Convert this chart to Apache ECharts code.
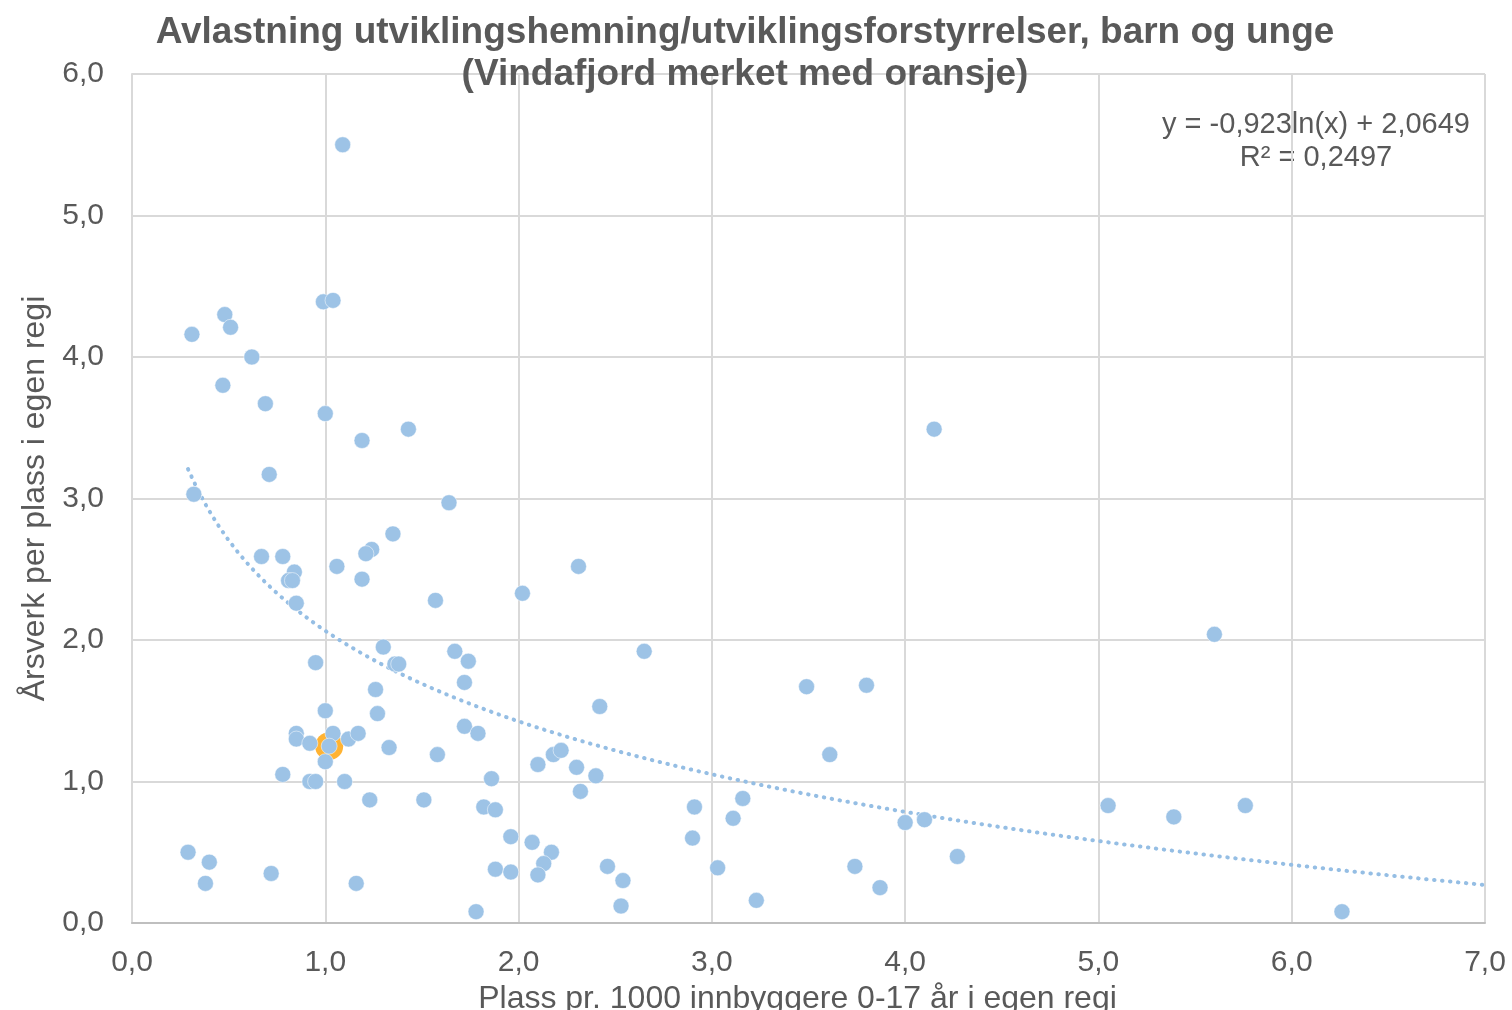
<!DOCTYPE html>
<html>
<head>
<meta charset="utf-8">
<title>Avlastning utviklingshemning</title>
<script src="https://cdn.jsdelivr.net/npm/echarts@6/dist/echarts.min.js"></script>
<style>
  html, body { margin: 0; padding: 0; background: #fff; }
  #chart { width: 1512px; height: 1010px; }
</style>
</head>
<body>
<div id="chart"></div>
<script>
// plass pr. 1000 innbyggere 0-17 år (x) og årsverk per plass (y), lest av figuren
const plassX = [
  1.09, 0.99, 1.04, 0.31, 0.48, 0.51, 0.62, 0.47, 0.69, 1.00,
  1.19, 1.43, 0.71, 0.32, 1.64, 4.15, 0.67, 0.78, 1.35, 1.24,
  1.21, 1.06, 0.84, 0.81, 0.83, 1.19, 0.85, 1.57, 2.31, 2.02,
  0.95, 1.30, 1.36, 1.38, 1.67, 1.74, 1.72, 2.65, 1.26, 1.27,
  1.00, 2.42, 0.85, 0.85, 0.92, 1.04, 1.12, 1.17, 1.00, 0.78,
  0.92, 0.95, 1.10, 1.23, 1.51, 1.33, 1.58, 1.72, 1.79, 0.29,
  0.40, 0.38, 0.72, 1.16, 1.78, 1.86, 1.82, 1.88, 1.96, 2.07,
  2.17, 2.13, 2.10, 1.88, 1.96, 2.10, 2.18, 2.22, 2.30, 2.40,
  2.32, 2.46, 2.54, 2.53, 2.91, 2.90, 3.03, 3.16, 3.11, 3.23,
  3.49, 3.80, 3.61, 3.74, 3.87, 4.00, 4.10, 4.27, 5.05, 5.39,
  5.60, 5.76, 6.26
]
const aarsverkY = [
  5.50, 4.39, 4.40, 4.16, 4.30, 4.21, 4.00, 3.80, 3.67, 3.60,
  3.41, 3.49, 3.17, 3.03, 2.97, 3.49, 2.59, 2.59, 2.75, 2.64,
  2.61, 2.52, 2.48, 2.42, 2.42, 2.43, 2.26, 2.28, 2.52, 2.33,
  1.84, 1.95, 1.83, 1.83, 1.92, 1.85, 1.70, 1.92, 1.65, 1.48,
  1.50, 1.53, 1.34, 1.30, 1.27, 1.34, 1.30, 1.34, 1.14, 1.05,
  1.00, 1.00, 1.00, 0.87, 0.87, 1.24, 1.19, 1.39, 1.34, 0.50,
  0.43, 0.28, 0.35, 0.28, 0.08, 1.02, 0.82, 0.80, 0.61, 0.57,
  0.50, 0.42, 0.34, 0.38, 0.36, 1.12, 1.19, 1.22, 1.10, 1.04,
  0.93, 0.40, 0.30, 0.12, 0.82, 0.60, 0.39, 0.88, 0.74, 0.16,
  1.67, 1.68, 1.19, 0.40, 0.25, 0.71, 0.73, 0.47, 0.83, 0.75,
  2.04, 0.83, 0.08
]
const vindafjord = [1.02, 1.25]

// logaritmisk trendlinje som vist i figuren
const trendA = -0.923
const trendB = 2.0649
const trendFrom = 0.29
const trendTo = 7.0

const xTicks = [0, 1, 2, 3, 4, 5, 6, 7]
const yTicks = [0, 1, 2, 3, 4, 5, 6]

const points = plassX.map((x, i) => [x, aarsverkY[i]])
points.push(vindafjord) // blå prikk over den oransje ringen
const trend = []
for (let x = trendFrom; x <= trendTo + 1e-9; x += 0.05) {
  trend.push([x, trendA * Math.log(x) + trendB])
}

const fmt = v => v.toFixed(1).replace('.', ',')
const grey = '#595959'
const blue = '#9dc3e6'
const font = '"Liberation Sans", Arial, sans-serif'

const chart = echarts.init(document.getElementById('chart'))
chart.setOption({
  animation: false,
  textStyle: { fontFamily: font },
  title: {
    text: 'Avlastning utviklingshemning/utviklingsforstyrrelser, barn og unge\n(Vindafjord merket med oransje)',
    left: 740,
    top: 7,
    textAlign: 'center',
    textStyle: {
      fontFamily: font,
      fontSize: 37,
      fontWeight: 'bold',
      color: grey,
      lineHeight: 42
    }
  },
  grid: {
    left: 132,
    right: 27,
    top: 74,
    bottom: 87,
    containLabel: false,
    outerBoundsMode: 'none'
  },
  xAxis: {
    type: 'value',
    min: xTicks[0],
    max: xTicks[xTicks.length - 1],
    interval: 1,
    name: 'Plass pr. 1000 innbyggere 0-17 år i egen regi',
    nameLocation: 'middle',
    nameGap: 52,
    nameTextStyle: { fontSize: 32, color: grey, padding: [0, 22, 0, 0] },
    axisLine: { lineStyle: { color: '#bfbfbf', width: 2 } },
    axisTick: { show: false },
    axisLabel: { fontSize: 30, color: grey, margin: 25, formatter: fmt },
    splitLine: { lineStyle: { color: '#d9d9d9', width: 2 } }
  },
  yAxis: {
    type: 'value',
    min: yTicks[0],
    max: yTicks[yTicks.length - 1],
    interval: 1,
    name: 'Årsverk per plass i egen regi',
    nameLocation: 'middle',
    nameGap: 81,
    nameTextStyle: { fontSize: 32, color: grey },
    axisLine: { show: true, lineStyle: { color: '#d9d9d9', width: 2 } },
    axisTick: { show: false },
    axisLabel: { fontSize: 30, color: grey, margin: 28, formatter: fmt },
    splitLine: { lineStyle: { color: '#d9d9d9', width: 2 } }
  },
  graphic: [
    {
      type: 'text',
      x: 1316,
      y: 110,
      style: { text: 'y = -0,923ln(x) + 2,0649', align: 'center', fontFamily: font, fontSize: 29, fill: grey }
    },
    {
      type: 'text',
      x: 1316,
      y: 143,
      style: { text: 'R² = 0,2497', align: 'center', fontFamily: font, fontSize: 29, fill: grey }
    }
  ],
  series: [
    {
      name: 'Trend',
      type: 'line',
      data: trend,
      showSymbol: false,
      smooth: false,
      z: 1,
      lineStyle: { color: '#95bee4', width: 4, type: [0.5, 7.5], cap: 'round' }
    },
    {
      name: 'Vindafjord',
      type: 'scatter',
      data: [vindafjord],
      symbolSize: 28,
      z: 2,
      itemStyle: { color: '#ffa000' }
    },
    {
      name: 'Kommuner',
      type: 'scatter',
      data: points,
      symbolSize: 16,
      z: 3,
      itemStyle: { color: blue, borderColor: '#fff', borderWidth: 0.5, opacity: 1 }
    }
  ]
})
</script>
</body>
</html>
